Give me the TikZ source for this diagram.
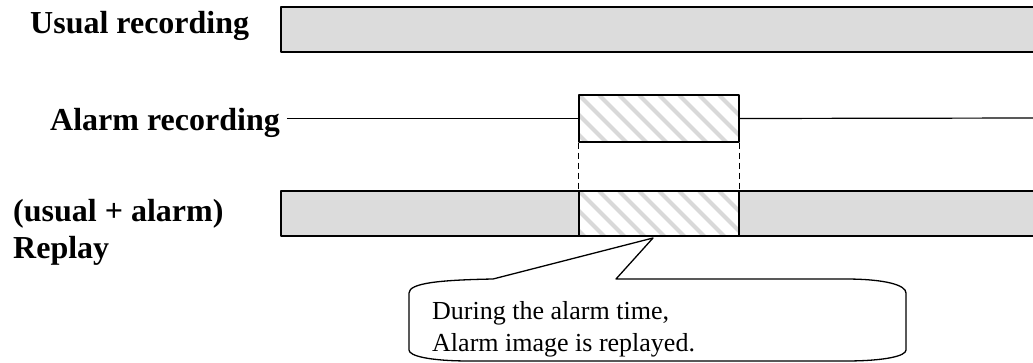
\documentclass[tikz,border=0pt]{standalone}
\usepackage{fontspec}
\setmainfont{Liberation Serif}
\usepackage{tikz}
\usetikzlibrary{arrows.meta}
\definecolor{barfill}{HTML}{DCDCDC}
\definecolor{hatch}{HTML}{D9D9D9}
\tikzset{
  every picture/.style={line join=round, line cap=butt},
  label/.style={inner sep=0pt, anchor=base west, font=\fontsize{32}{37}\selectfont\bfseries, align=left},
  note/.style={inner sep=0pt, anchor=base west, font=\fontsize{26}{32}\selectfont, align=left},
  bar/.style={draw=black, line width=1.5pt, fill=barfill},
  hatchbox/.style={draw=black, line width=1.3pt, fill=white, inner sep=0pt, minimum width=160pt,
    path picture={\foreach \i in {-80,-60,...,200}{\draw[hatch,line width=4pt]
      ([xshift=\i pt]path picture bounding box.north west) -- ++(70pt,-70pt);}}},
}

\begin{document}
\begin{tikzpicture}[x=1pt,y=-1pt]
\useasboundingbox (0,0) rectangle (1033,362);
% labels
\node[label] (usual) at (30,33) {Usual recording};
\node[label] (alarm) at (50,130) {Alarm recording};
\node[label] (replay) at (13,258) {(usual + alarm)\\Replay};
% bars
\draw[bar] (281,7) rectangle (1040,52);
\draw[bar] (281,191) rectangle (1040,236);
\node[hatchbox,minimum height=47pt] (alarmbox) at (659,118.5) {};
\node[hatchbox,minimum height=45pt] (replaybox) at (659,213.5) {};
\coordinate (alarmend) at (1040,118);
\draw[line width=1.2pt] (alarm.east |- alarmbox.west) ++(7,0) -- (alarmbox.west);
\draw[line width=1.2pt] (alarmbox.east) -- (alarmend);
\draw[line width=1.5pt,dash pattern=on 6pt off 4pt] (alarmbox.south west) -- (replaybox.north west);
\draw[line width=1.5pt,dash pattern=on 6pt off 4pt] (alarmbox.south east) -- (replaybox.north east);
% callout
\coordinate (tip) at (653,238);
\draw[line width=1.3pt,fill=white] (409,293) .. controls (409,283) and (440,280) .. (493,279) -- (tip) -- (616,279)
  -- (845,279) .. controls (885,279) and (906,285) .. (906,293) -- (906,350)
  .. controls (906,356) and (885,361) .. (845,361) -- (470,361)
  .. controls (430,361) and (409,356) .. (409,350) -- cycle;
\node[note] (text) at (432,351) {During the alarm time,\\Alarm image is replayed.};
\end{tikzpicture}
\end{document}
